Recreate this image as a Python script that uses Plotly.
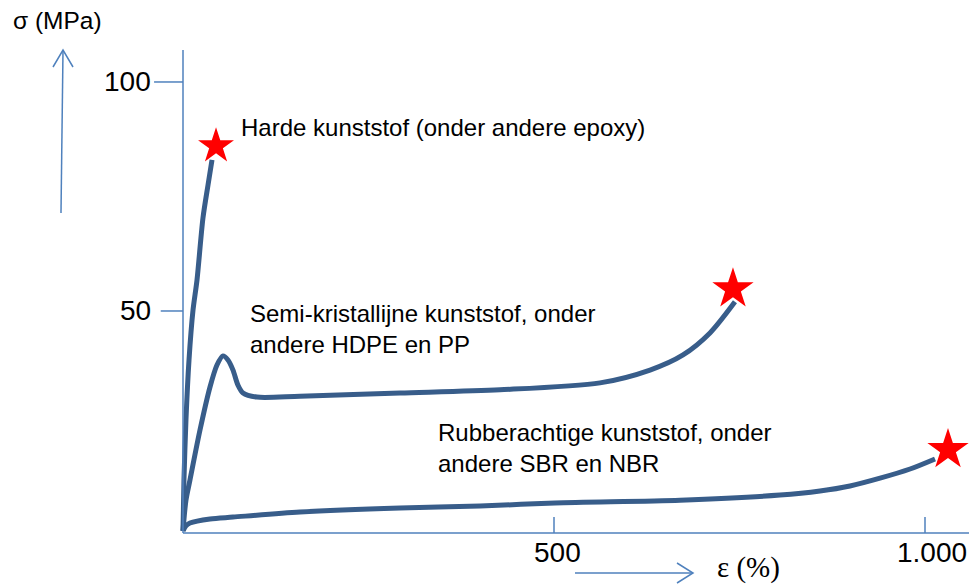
import plotly.graph_objects as go

# Stress-strain curves for three classes of plastics
# strain in %, stress in MPa

hard_strain = [0, 1.3, 4.0, 8.1, 13.5, 18.9, 26.9, 33.7, 39.1]
hard_stress = [2.0, 13.1, 26.2, 39.3, 50.2, 56.8, 70.3, 77.5, 83.0]
hard_break = (44.5, 86.0)

semi_strain = [0, 4.0, 9.4, 22.9, 36.4, 45.8, 53.9, 60.6, 67.4, 74.1, 80.9, 99.7,
               157.7, 292.5, 427.2, 562.0, 629.4, 673.9, 710.2, 743.9]
semi_stress = [2.0, 8.7, 13.1, 24.0, 33.4, 38.2, 40.2, 39.3, 37.1, 33.8, 32.1, 31.2,
               31.4, 32.1, 32.8, 34.3, 37.1, 40.4, 45.2, 52.0]
semi_break = (741.2, 54.8)

rubber_strain = [0, 4.0, 9.4, 36.4, 67.4, 157.7, 292.5, 400.3, 501.3, 669.8, 804.6,
                 858.5, 898.9, 939.4, 979.8, 1013.5]
rubber_stress = [2.0, 3.1, 3.7, 4.6, 5.0, 6.1, 7.0, 7.4, 8.1, 8.7, 9.8,
                 10.7, 11.8, 13.5, 15.5, 17.7]
rubber_break = (1031.0, 19.7)

y_ticks = [100, 50]
y_tick_labels = ["100", "50"]
x_ticks = [500, 1000]
x_tick_labels = ["500", "1.000"]

labels = [
    "Harde kunststof (onder andere epoxy)",
    "Semi-kristallijne kunststof, onder<br>andere HDPE en PP",
    "Rubberachtige kunststof, onder<br>andere SBR en NBR",
]

W, H = 969, 584
X_RANGE = [-246.63, 1059.30]
Y_RANGE = [-9.607, 117.90]
AXIS_Y = 1.53  # height of the drawn strain axis
AXIS_TOP = 107.0

CURVE = "#385D8A"
AXIS = "#4F81BD"
STAR = "#FF0000"
SANS = "Liberation Sans"
SERIF = "Times New Roman, Liberation Serif, serif"


def paper(px, py):
    return px / W, 1 - py / H


fig = go.Figure()

for xs, ys in [(hard_strain, hard_stress), (semi_strain, semi_stress),
               (rubber_strain, rubber_stress)]:
    fig.add_trace(go.Scatter(x=xs, y=ys, mode="lines",
                             line=dict(color=CURVE, width=5, shape="spline", smoothing=0.8),
                             hoverinfo="skip", showlegend=False))

for (bx, by), size in [(hard_break, 27), (semi_break, 31), (rubber_break, 31)]:
    fig.add_trace(go.Scatter(x=[bx], y=[by], mode="markers",
                             marker=dict(symbol="star", size=size, color=STAR,
                                         line=dict(width=0)),
                             hoverinfo="skip", showlegend=False))

shapes = []
# axis lines
shapes.append(dict(type="line", xref="x", yref="y", x0=0, x1=X_RANGE[1],
                   y0=AXIS_Y, y1=AXIS_Y, line=dict(color=AXIS, width=1.5)))
shapes.append(dict(type="line", xref="x", yref="y", x0=0, x1=0,
                   y0=AXIS_Y, y1=AXIS_TOP, line=dict(color=AXIS, width=1.5)))
# stress ticks
for v, length in zip(y_ticks, [39, 30]):
    shapes.append(dict(type="line", xref="x", yref="y", x0=-length, x1=0,
                       y0=v, y1=v, line=dict(color=AXIS, width=1.5)))
# strain ticks
for v in x_ticks:
    shapes.append(dict(type="line", xref="x", yref="y", x0=v, x1=v,
                       y0=AXIS_Y, y1=AXIS_Y + 3.5, line=dict(color=AXIS, width=1.5)))


def arrow_path(pts):
    return "M " + " L ".join(f"{x:.5f},{y:.5f}" for x, y in (paper(*p) for p in pts))


# stress direction arrow
shapes.append(dict(type="path", xref="paper", yref="paper",
                   path=arrow_path([(61, 213), (63, 50)]),
                   line=dict(color=AXIS, width=1.5)))
shapes.append(dict(type="path", xref="paper", yref="paper",
                   path=arrow_path([(53, 67), (63, 50), (73, 67)]),
                   line=dict(color=AXIS, width=1.5)))
# strain direction arrow
shapes.append(dict(type="path", xref="paper", yref="paper",
                   path=arrow_path([(575, 573), (693, 573)]),
                   line=dict(color=AXIS, width=1.5)))
shapes.append(dict(type="path", xref="paper", yref="paper",
                   path=arrow_path([(677, 563), (693, 573), (677, 583)]),
                   line=dict(color=AXIS, width=1.5)))

annotations = []
for v, t in zip(y_ticks, y_tick_labels):
    annotations.append(dict(x=-41, y=v, xref="x", yref="y", text=t, showarrow=False,
                            xanchor="right", yanchor="middle",
                            font=dict(family=SANS, size=28, color="black")))
for v, t, dx in zip(x_ticks, x_tick_labels, [3, 7]):
    annotations.append(dict(x=v, y=AXIS_Y, xref="x", yref="y", text=t, showarrow=False,
                            xanchor="center", yanchor="top", xshift=dx, yshift=-2,
                            font=dict(family=SANS, size=28, color="black")))

label_pos = [(239, 127), (248, 329), (436, 448)]
for t, (lx, ly) in zip(labels, label_pos):
    px_, py_ = paper(lx, ly)
    annotations.append(dict(x=px_, y=py_, xref="paper", yref="paper", text=t,
                            showarrow=False, xanchor="left", yanchor="middle", align="left",
                            font=dict(family=SANS, size=24, color="black")))

px_, py_ = paper(11, 20)
annotations.append(dict(x=px_, y=py_, xref="paper", yref="paper", text="σ (MPa)",
                        showarrow=False, xanchor="left", yanchor="middle",
                        font=dict(family=SANS, size=24.5, color="black")))
px_, py_ = paper(715, 567)
annotations.append(dict(x=px_, y=py_, xref="paper", yref="paper", text="ε (%)",
                        showarrow=False, xanchor="left", yanchor="middle",
                        font=dict(family=SERIF, size=29, color="black")))

fig.update_layout(
    width=W, height=H, autosize=False,
    margin=dict(l=0, r=0, t=0, b=0),
    paper_bgcolor="white", plot_bgcolor="white",
    xaxis=dict(range=X_RANGE, visible=False, fixedrange=True),
    yaxis=dict(range=Y_RANGE, visible=False, fixedrange=True),
    shapes=shapes, annotations=annotations,
)

fig.write_html("out.html")
